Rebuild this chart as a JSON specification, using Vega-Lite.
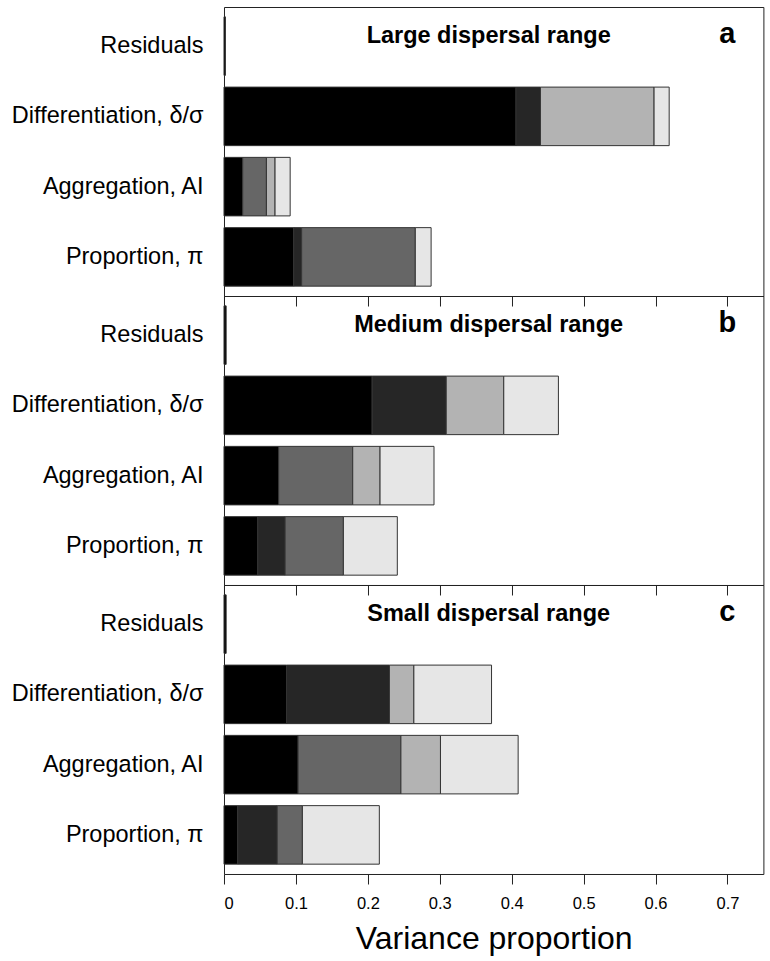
{
  "$schema": "https://vega.github.io/schema/vega-lite/v6.json",
  "padding": {"left": 10, "top": 6, "right": 7, "bottom": 4},
  "background": "white",
  "config": {
    "font": "Liberation Sans",
    "view": {"stroke": "#222222", "strokeWidth": 1},
    "axis": {"labelColor": "black", "titleColor": "black", "tickColor": "#222222", "grid": false}
  },
  "datasets": {
    "bars": [
      {"panel": "a", "response": "Residuals", "component": "C1", "value": 0.002},
      {"panel": "a", "response": "Differentiation, δ/σ", "component": "C1", "value": 0.406},
      {"panel": "a", "response": "Differentiation, δ/σ", "component": "C2", "value": 0.034},
      {"panel": "a", "response": "Differentiation, δ/σ", "component": "C4", "value": 0.158},
      {"panel": "a", "response": "Differentiation, δ/σ", "component": "C5", "value": 0.021},
      {"panel": "a", "response": "Aggregation, AI", "component": "C1", "value": 0.026},
      {"panel": "a", "response": "Aggregation, AI", "component": "C3", "value": 0.033},
      {"panel": "a", "response": "Aggregation, AI", "component": "C4", "value": 0.012},
      {"panel": "a", "response": "Aggregation, AI", "component": "C5", "value": 0.021},
      {"panel": "a", "response": "Proportion, π", "component": "C1", "value": 0.097},
      {"panel": "a", "response": "Proportion, π", "component": "C2", "value": 0.011},
      {"panel": "a", "response": "Proportion, π", "component": "C3", "value": 0.158},
      {"panel": "a", "response": "Proportion, π", "component": "C5", "value": 0.022},
      {"panel": "b", "response": "Residuals", "component": "C1", "value": 0.003},
      {"panel": "b", "response": "Differentiation, δ/σ", "component": "C1", "value": 0.206},
      {"panel": "b", "response": "Differentiation, δ/σ", "component": "C2", "value": 0.103},
      {"panel": "b", "response": "Differentiation, δ/σ", "component": "C4", "value": 0.080},
      {"panel": "b", "response": "Differentiation, δ/σ", "component": "C5", "value": 0.076},
      {"panel": "b", "response": "Aggregation, AI", "component": "C1", "value": 0.076},
      {"panel": "b", "response": "Aggregation, AI", "component": "C3", "value": 0.103},
      {"panel": "b", "response": "Aggregation, AI", "component": "C4", "value": 0.038},
      {"panel": "b", "response": "Aggregation, AI", "component": "C5", "value": 0.075},
      {"panel": "b", "response": "Proportion, π", "component": "C1", "value": 0.047},
      {"panel": "b", "response": "Proportion, π", "component": "C2", "value": 0.038},
      {"panel": "b", "response": "Proportion, π", "component": "C3", "value": 0.081},
      {"panel": "b", "response": "Proportion, π", "component": "C5", "value": 0.075},
      {"panel": "c", "response": "Residuals", "component": "C1", "value": 0.003},
      {"panel": "c", "response": "Differentiation, δ/σ", "component": "C1", "value": 0.087},
      {"panel": "c", "response": "Differentiation, δ/σ", "component": "C2", "value": 0.143},
      {"panel": "c", "response": "Differentiation, δ/σ", "component": "C4", "value": 0.034},
      {"panel": "c", "response": "Differentiation, δ/σ", "component": "C5", "value": 0.108},
      {"panel": "c", "response": "Aggregation, AI", "component": "C1", "value": 0.103},
      {"panel": "c", "response": "Aggregation, AI", "component": "C3", "value": 0.143},
      {"panel": "c", "response": "Aggregation, AI", "component": "C4", "value": 0.055},
      {"panel": "c", "response": "Aggregation, AI", "component": "C5", "value": 0.108},
      {"panel": "c", "response": "Proportion, π", "component": "C1", "value": 0.019},
      {"panel": "c", "response": "Proportion, π", "component": "C2", "value": 0.055},
      {"panel": "c", "response": "Proportion, π", "component": "C3", "value": 0.035},
      {"panel": "c", "response": "Proportion, π", "component": "C5", "value": 0.107}
    ],
    "labels": [
      {"panel": "a", "title": "Large dispersal range", "letter": "a"},
      {"panel": "b", "title": "Medium dispersal range", "letter": "b"},
      {"panel": "c", "title": "Small dispersal range", "letter": "c"}
    ]
  },
  "spacing": 0,
  "bounds": "flush",
  "vconcat": [
    {
      "width": 539.4,
      "height": 289,
      "layer": [
        {
          "data": {"name": "bars"},
          "transform": [{"filter": "datum.panel === 'a'"}],
          "mark": {"type": "bar", "stroke": "#333333", "strokeWidth": 1},
          "encoding": {
            "y": {"field": "response", "type": "nominal", "sort": ["Residuals", "Differentiation, δ/σ", "Aggregation, AI", "Proportion, π"], "scale": {"paddingInner": 0.167, "paddingOuter": 0.14}, "axis": {"title": null, "domain": false, "ticks": false, "labelFontSize": 23.5, "labelPadding": 21, "labelLimit": 0}},
            "x": {"field": "value", "type": "quantitative", "stack": "zero", "scale": {"domain": [0, 0.75], "nice": false}, "axis": {"title": null, "domain": false, "labels": false, "tickSize": 10, "values": [0, 0.1, 0.2, 0.3, 0.4, 0.5, 0.6, 0.7]}},
            "color": {"field": "component", "type": "nominal", "scale": {"domain": ["C1", "C2", "C3", "C4", "C5"], "range": ["#000000", "#262626", "#666666", "#b3b3b3", "#e6e6e6"]}, "legend": null},
            "order": {"field": "component", "sort": "ascending"}
          }
        },
        {
          "data": {"name": "labels"},
          "transform": [{"filter": "datum.panel === 'a'"}],
          "mark": {"type": "text", "fontSize": 23.5, "fontWeight": "bold", "align": "center", "baseline": "alphabetic", "dy": -3, "color": "black"},
          "encoding": {"x": {"datum": 0.368}, "y": {"datum": "Residuals"}, "text": {"field": "title"}}
        },
        {
          "data": {"name": "labels"},
          "transform": [{"filter": "datum.panel === 'a'"}],
          "mark": {"type": "text", "fontSize": 29, "fontWeight": "bold", "align": "center", "baseline": "alphabetic", "dy": -3, "color": "black"},
          "encoding": {"x": {"datum": 0.7}, "y": {"datum": "Residuals"}, "text": {"field": "letter"}}
        }
      ]
    },
    {
      "width": 539.4,
      "height": 289,
      "layer": [
        {
          "data": {"name": "bars"},
          "transform": [{"filter": "datum.panel === 'b'"}],
          "mark": {"type": "bar", "stroke": "#333333", "strokeWidth": 1},
          "encoding": {
            "y": {"field": "response", "type": "nominal", "sort": ["Residuals", "Differentiation, δ/σ", "Aggregation, AI", "Proportion, π"], "scale": {"paddingInner": 0.167, "paddingOuter": 0.14}, "axis": {"title": null, "domain": false, "ticks": false, "labelFontSize": 23.5, "labelPadding": 21, "labelLimit": 0}},
            "x": {"field": "value", "type": "quantitative", "stack": "zero", "scale": {"domain": [0, 0.75], "nice": false}, "axis": {"title": null, "domain": false, "labels": false, "tickSize": 10, "values": [0, 0.1, 0.2, 0.3, 0.4, 0.5, 0.6, 0.7]}},
            "color": {"field": "component", "type": "nominal", "scale": {"domain": ["C1", "C2", "C3", "C4", "C5"], "range": ["#000000", "#262626", "#666666", "#b3b3b3", "#e6e6e6"]}, "legend": null},
            "order": {"field": "component", "sort": "ascending"}
          }
        },
        {
          "data": {"name": "labels"},
          "transform": [{"filter": "datum.panel === 'b'"}],
          "mark": {"type": "text", "fontSize": 23.5, "fontWeight": "bold", "align": "center", "baseline": "alphabetic", "dy": -3, "color": "black"},
          "encoding": {"x": {"datum": 0.368}, "y": {"datum": "Residuals"}, "text": {"field": "title"}}
        },
        {
          "data": {"name": "labels"},
          "transform": [{"filter": "datum.panel === 'b'"}],
          "mark": {"type": "text", "fontSize": 29, "fontWeight": "bold", "align": "center", "baseline": "alphabetic", "dy": -3, "color": "black"},
          "encoding": {"x": {"datum": 0.7}, "y": {"datum": "Residuals"}, "text": {"field": "letter"}}
        }
      ]
    },
    {
      "width": 539.4,
      "height": 289,
      "layer": [
        {
          "data": {"name": "bars"},
          "transform": [{"filter": "datum.panel === 'c'"}],
          "mark": {"type": "bar", "stroke": "#333333", "strokeWidth": 1},
          "encoding": {
            "y": {"field": "response", "type": "nominal", "sort": ["Residuals", "Differentiation, δ/σ", "Aggregation, AI", "Proportion, π"], "scale": {"paddingInner": 0.167, "paddingOuter": 0.14}, "axis": {"title": null, "domain": false, "ticks": false, "labelFontSize": 23.5, "labelPadding": 21, "labelLimit": 0}},
            "x": {"field": "value", "type": "quantitative", "stack": "zero", "scale": {"domain": [0, 0.75], "nice": false}, "axis": {"title": "Variance proportion", "titleFontSize": 32, "titleFontWeight": "normal", "titlePadding": 11, "domain": false, "format": "~g", "labelFontSize": 16.5, "labelPadding": 12, "tickSize": 10, "values": [0, 0.1, 0.2, 0.3, 0.4, 0.5, 0.6, 0.7]}},
            "color": {"field": "component", "type": "nominal", "scale": {"domain": ["C1", "C2", "C3", "C4", "C5"], "range": ["#000000", "#262626", "#666666", "#b3b3b3", "#e6e6e6"]}, "legend": null},
            "order": {"field": "component", "sort": "ascending"}
          }
        },
        {
          "data": {"name": "labels"},
          "transform": [{"filter": "datum.panel === 'c'"}],
          "mark": {"type": "text", "fontSize": 23.5, "fontWeight": "bold", "align": "center", "baseline": "alphabetic", "dy": -3, "color": "black"},
          "encoding": {"x": {"datum": 0.368}, "y": {"datum": "Residuals"}, "text": {"field": "title"}}
        },
        {
          "data": {"name": "labels"},
          "transform": [{"filter": "datum.panel === 'c'"}],
          "mark": {"type": "text", "fontSize": 29, "fontWeight": "bold", "align": "center", "baseline": "alphabetic", "dy": -3, "color": "black"},
          "encoding": {"x": {"datum": 0.7}, "y": {"datum": "Residuals"}, "text": {"field": "letter"}}
        }
      ]
    }
  ]
}
